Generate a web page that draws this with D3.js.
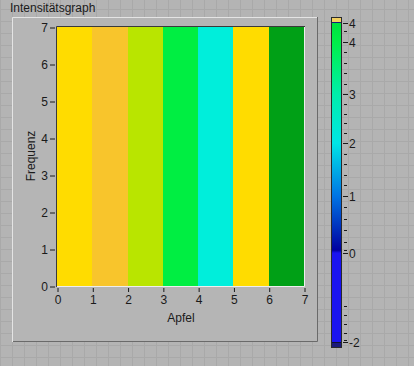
<!DOCTYPE html>
<html>
<head>
<meta charset="utf-8">
<script src="https://cdn.jsdelivr.net/npm/d3@7"></script>
<style>
  html, body { margin: 0; padding: 0; background: #b4b4b4; }
  svg { display: block; }
  text { font-family: "Liberation Sans", "DejaVu Sans", sans-serif; fill: #1a1a1a; }
</style>
</head>
<body>
<script>
'use strict';

// chart data
var title = 'Intensitätsgraph';
var xLabel = 'Apfel';
var yLabel = 'Frequenz';
var apfel = [0, 1, 2, 3, 4, 5, 6];
var frequenz = [0, 1, 2, 3, 4, 5, 6];
var columnIntensity = [4.6, 4.5, 4.3, 3.9, 2.2, 4.6, 4.1];
var intensityLevels = [4.6, 4.5, 4.3, 3.9, 2.2, 4.1];
var levelColors = ['#ffdc00', '#f8c52c', '#b9e500', '#00ee42', '#00eedb', '#00a016'];
var axisTicks = [0, 1, 2, 3, 4, 5, 6, 7];

// colour ramp legend
var rampValues = [4.35, 4, 3, 2, 1, 0.05, 0, -2];
var rampColors = ['#00e23e', '#00ef48', '#00eeaa', '#00e6e6', '#0074e4', '#0000a0', '#1a14f0', '#1a14f0'];
var rampMajor = [4.35, 4, 3, 2, 1, 0, -2];
var rampMinor = [4.2, 3.8, 3.6, 3.4, 3.2, 2.8, 2.6, 2.4, 2.2, 1.8, 1.6, 1.4, 1.2, 0.8, 0.6, 0.4, 0.2, 0.05,
                 -1.2, -1.4, -1.6, -1.8, -1.95];
var rampDomain = [-2, 0, 1, 2, 3, 4, 4.35];

var width = 414, height = 366;

var svg = d3.select('body').append('svg')
  .attr('width', width)
  .attr('height', height);

// panel grid background
var grid = svg.append('g');
d3.range(0, width, 12).forEach(function(x) {
  grid.append('line').attr('x1', x + 0.5).attr('x2', x + 0.5).attr('y1', 0).attr('y2', height)
    .attr('stroke', '#a9a9a9');
});
d3.range(9, height, 12).forEach(function(y) {
  grid.append('line').attr('y1', y + 0.5).attr('y2', y + 0.5).attr('x1', 0).attr('x2', width)
    .attr('stroke', '#a9a9a9');
});

// title
svg.append('text').attr('x', 10).attr('y', 12).attr('font-size', 12).text(title);

// graph frame (raised)
svg.append('rect').attr('x', 12).attr('y', 17).attr('width', 306).attr('height', 325).attr('fill', '#b5b5b5');
svg.append('path').attr('d', 'M12.5,342V17.5H318').attr('fill', 'none').attr('stroke', '#e4e4e4');
svg.append('path').attr('d', 'M13,341.5H317.5V17').attr('fill', 'none').attr('stroke', '#6a6a6a');

var x = d3.scaleLinear().domain([0, 7]).range([57, 304]);
var y = d3.scaleLinear().domain([0, 7]).range([286, 27]);

var color = d3.scaleOrdinal().domain(intensityLevels).range(levelColors);

var cells = [];
apfel.forEach(function(a, i) {
  frequenz.forEach(function(f) {
    cells.push({ a: a, f: f, v: columnIntensity[i] });
  });
});

svg.append('g').selectAll('rect').data(cells).enter().append('rect')
  .attr('x', function(d) { return x(d.a); })
  .attr('y', function(d) { return y(d.f + 1); })
  .attr('width', function(d) { return x(d.a + 1) - x(d.a) + 0.3; })
  .attr('height', function(d) { return y(d.f) - y(d.f + 1) + 0.3; })
  .attr('fill', function(d) { return color(d.v); })
  .attr('shape-rendering', 'crispEdges');

// sunken plot border
svg.append('path').attr('d', 'M56.5,287V26.5H305').attr('fill', 'none').attr('stroke', '#3a3a3a');
svg.append('path').attr('d', 'M57,286.5H304.5V27').attr('fill', 'none').attr('stroke', '#eeeeee');

var xAxis = svg.append('g').attr('transform', 'translate(0.5,288)')
  .call(d3.axisBottom(x).tickValues(axisTicks).tickSize(4).tickPadding(3).tickFormat(d3.format('d')));
var yAxis = svg.append('g').attr('transform', 'translate(55,0.5)')
  .call(d3.axisLeft(y).tickValues(axisTicks).tickSize(5).tickPadding(2).tickFormat(d3.format('d')));
[xAxis, yAxis].forEach(function(ax) {
  ax.select('.domain').remove();
  ax.selectAll('line').attr('stroke', '#1a1a1a');
  ax.selectAll('text').attr('font-size', 12).attr('font-family', '"Liberation Sans", sans-serif').attr('fill', '#1a1a1a');
});

svg.append('text').attr('x', 181).attr('y', 322).attr('text-anchor', 'middle').attr('font-size', 12).text(xLabel);
svg.append('text').attr('transform', 'translate(35,156) rotate(-90)')
  .attr('text-anchor', 'middle').attr('font-size', 12).text(yLabel);

// colour ramp
var ry = d3.scaleLinear().domain(rampDomain).range([342, 253, 196, 143, 94, 42, 23]);

var grad = svg.append('defs').append('linearGradient').attr('id', 'ramp')
  .attr('gradientUnits', 'userSpaceOnUse').attr('x1', 0).attr('x2', 0).attr('y1', 23).attr('y2', 342);
grad.selectAll('stop').data(rampValues).enter().append('stop')
  .attr('offset', function(v) { return (ry(v) - 23) / (342 - 23); })
  .attr('stop-color', function(v, i) { return rampColors[i]; });

svg.append('rect').attr('x', 331.5).attr('y', 17.5).attr('width', 10).attr('height', 330)
  .attr('fill', '#1a1a7a').attr('stroke', '#2a2a2a');
svg.append('rect').attr('x', 332).attr('y', 18).attr('width', 9).attr('height', 4).attr('fill', '#f2d060');
svg.append('rect').attr('x', 332).attr('y', 23).attr('width', 9).attr('height', 319).attr('fill', 'url(#ramp)');
svg.append('rect').attr('x', 332).attr('y', 342).attr('width', 9).attr('height', 1).attr('fill', '#101030');

var ramp = svg.append('g');
ramp.selectAll('line.minor').data(rampMinor).enter().append('line')
  .attr('x1', 344).attr('x2', 347)
  .attr('y1', function(v) { return Math.round(ry(v)) + 0.5; })
  .attr('y2', function(v) { return Math.round(ry(v)) + 0.5; })
  .attr('stroke', '#1a1a1a');
ramp.selectAll('line.major').data(rampMajor).enter().append('line')
  .attr('x1', 343).attr('x2', 348)
  .attr('y1', function(v) { return Math.round(ry(v)) + 0.5; })
  .attr('y2', function(v) { return Math.round(ry(v)) + 0.5; })
  .attr('stroke', '#1a1a1a');
ramp.selectAll('text').data(rampMajor).enter().append('text')
  .attr('x', 349)
  .attr('y', function(v) { return ry(v) + 4.5; })
  .attr('font-size', 12)
  .text(function(v) { return v < 0 ? '-' + d3.format('.0f')(-v) : d3.format('.0f')(Math.floor(v)); });
</script>
</body>
</html>
